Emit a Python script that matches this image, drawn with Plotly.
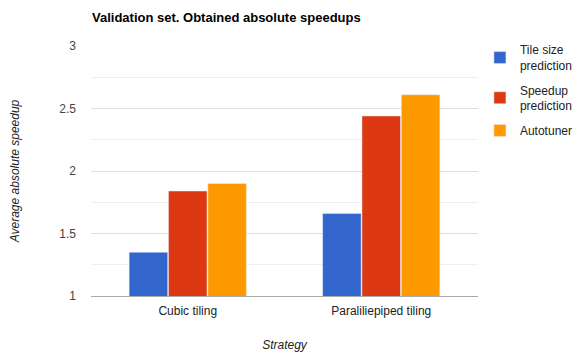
import plotly.graph_objects as go

strategies = ["Cubic tiling", "Paraliliepiped tiling"]
tile_size = [1.35, 1.66]
speedup_pred = [1.84, 2.44]
autotuner = [1.90, 2.61]

font = "Liberation Sans, Arial, sans-serif"

# the page puts the figure 8px in from the top-left corner
W, H = 574, 346

fig = go.Figure()
fig.add_trace(go.Bar(x=strategies, y=tile_size, name="Tile size<br>prediction", marker_color="#3366cc",
                     legendgroup="a"))
fig.add_trace(go.Bar(x=strategies, y=speedup_pred, name="Speedup<br>prediction", marker_color="#dc3912",
                     legendgroup="b"))
fig.add_trace(go.Bar(x=strategies, y=autotuner, name="Autotuner", marker_color="#ff9900",
                     legendgroup="c"))

fig.update_layout(
    width=W, height=H,
    margin=dict(l=83, r=104, t=38, b=58, autoexpand=False),
    paper_bgcolor="white", plot_bgcolor="white",
    font=dict(family=font, size=12, color="#222"),
    title=dict(text="<b>Validation set. Obtained absolute speedups</b>", x=84/W, xanchor="left",
               y=1 - 9/H, yanchor="middle", font=dict(size=13, color="#000")),
    barmode="group", bargap=0.39, bargroupgap=0.02,
    legend=dict(x=1.005, y=1.042, xanchor="left", yanchor="top", font=dict(size=12, color="#222"),
                traceorder="grouped", tracegroupgap=6),
    xaxis=dict(title=dict(text="<i>Strategy</i>", standoff=23, font=dict(size=12, color="#222")),
               automargin=False, ticklabelstandoff=4,
               showline=True, linecolor="#aaa", ticks="", tickfont=dict(size=12, color="#222")),
    yaxis=dict(title=dict(text="<i>Average absolute speedup</i>", standoff=48, font=dict(size=12, color="#222")),
               automargin=False,
               range=[1, 3], tickvals=[1, 1.5, 2, 2.5, 3], ticktext=["1", "1.5", "2", "2.5", "3"],
               gridcolor="#dedede", zeroline=False, ticks="", ticklabelstandoff=14,
               tickfont=dict(size=12, color="#444"),
               minor=dict(dtick=0.25, showgrid=True, gridcolor="#efefef")),
)

fig.write_html("out.html")
